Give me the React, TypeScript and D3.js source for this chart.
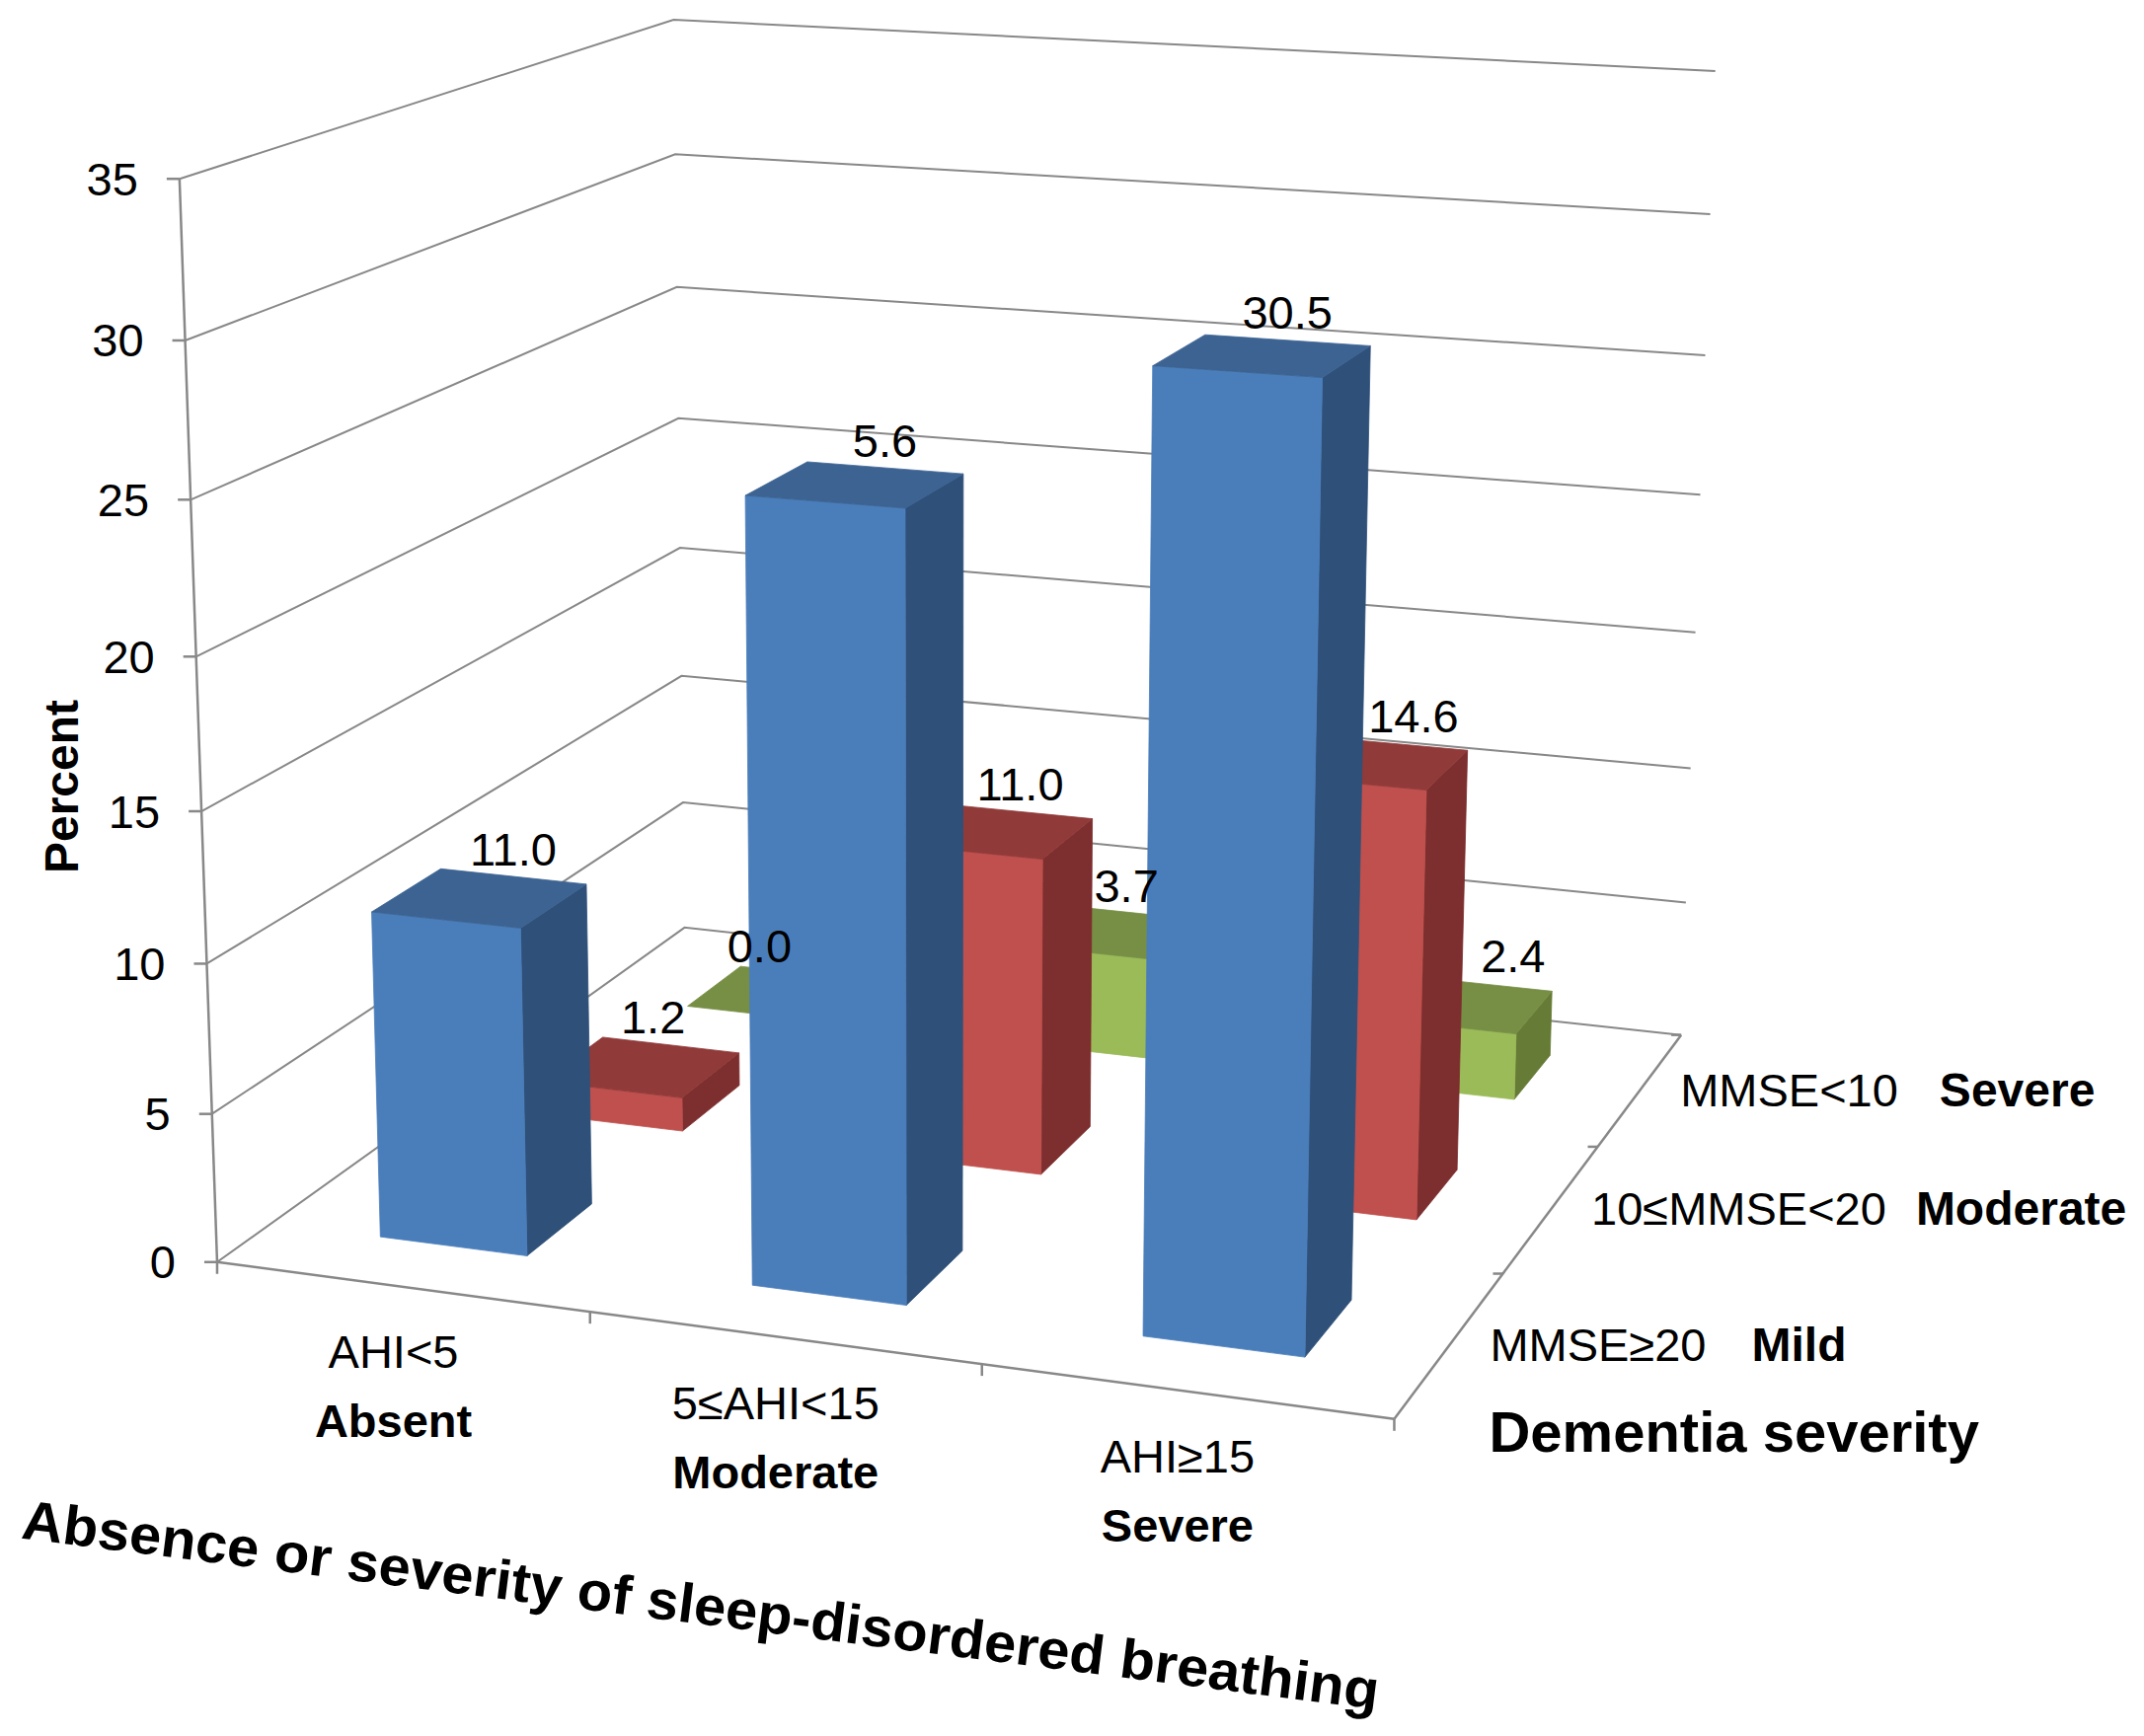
import React, { useEffect, useRef } from "react";
import * as d3 from "d3";

// categories (front axis) and series (depth axis)
const categories = ["AHI<5", "5≤AHI<15", "AHI≥15"];
const categoryLevels = ["Absent", "Moderate", "Severe"];
const seriesCodes = ["MMSE≥20", "10≤MMSE<20", "MMSE<10"];
const seriesLevels = ["Mild", "Moderate", "Severe"];

// percent values per series (front row first)
const mildValues = [11.0, 25.6, 30.5];
const moderateValues = [1.2, 11.0, 14.6];
const severeValues = [0.0, 3.7, 2.4];

// data labels as printed on the chart
const mildLabels = ["11.0", "5.6", "30.5"];
const moderateLabels = ["1.2", "11.0", "14.6"];
const severeLabels = ["0.0", "3.7", "2.4"];

const valueTicks = [0, 5, 10, 15, 20, 25, 30, 35];

const W = 2172;
const H = 1759;
const FONT = "'Liberation Sans', Arial, sans-serif";

// page position of the plot box corners/ticks: [cat, value, depth, px, py]
// used only to fit the perspective camera
const boxAnchors: number[][] = [
  [0, 0, 0, 220, 1278], [0, 5, 0, 214, 1127], [0, 10, 0, 209, 976], [0, 15, 0, 204, 822],
  [0, 20, 0, 200, 665], [0, 25, 0, 193, 507], [0, 30, 0, 188, 345], [0, 35, 0, 181, 182],
  [0, 0, 3, 693, 941], [0, 5, 3, 693, 814], [0, 10, 3, 690, 684], [0, 15, 3, 689, 555],
  [0, 20, 3, 687, 423], [0, 25, 3, 686, 291], [0, 30, 3, 683, 156], [0, 35, 3, 683, 20],
  [3, 0, 3, 1702, 1049], [3, 5, 3, 1707, 915], [3, 10, 3, 1712, 779], [3, 15, 3, 1717, 640],
  [3, 20, 3, 1722, 502], [3, 25, 3, 1728, 360], [3, 30, 3, 1733, 217], [3, 35, 3, 1738, 72],
  [1, 0, 0, 599, 1330], [2, 0, 0, 994, 1385], [3, 0, 0, 1408, 1438],
  [3, 0, 1, 1528, 1288], [3, 0, 2, 1620, 1161],
];

const yWorld = d3.scaleLinear().domain([0, 35]).range([0, 3.5]);

function fitCamera(anchors: number[][]) {
  const rows: number[][] = [];
  const rhs: number[] = [];
  anchors.forEach(([X, val, Z, px, py]) => {
    const Y = yWorld(val), u = px / 1000, v = py / 1000;
    rows.push([X, Y, Z, 1, 0, 0, 0, 0, -u * X, -u * Y, -u * Z]); rhs.push(u);
    rows.push([0, 0, 0, 0, X, Y, Z, 1, -v * X, -v * Y, -v * Z]); rhs.push(v);
  });
  const n = 11;
  const M = d3.range(n).map((i) => {
    const r = d3.range(n).map((j) => d3.sum(rows, (row) => row[i] * row[j]));
    r.push(d3.sum(rows, (row, k) => row[i] * rhs[k]));
    return r;
  });
  for (let c = 0; c < n; c++) {
    let piv = c;
    for (let r = c + 1; r < n; r++) if (Math.abs(M[r][c]) > Math.abs(M[piv][c])) piv = r;
    [M[c], M[piv]] = [M[piv], M[c]];
    for (let r = 0; r < n; r++) {
      if (r === c) continue;
      const f = M[r][c] / M[c][c];
      for (let k = c; k <= n; k++) M[r][k] -= f * M[c][k];
    }
  }
  return d3.range(n).map((i) => M[i][n] / M[i][i]);
}

const cam = fitCamera(boxAnchors);
// X: category units, Y: world height, Z: depth units
const project = (X: number, Y: number, Z: number): [number, number] => {
  const w = cam[8] * X + cam[9] * Y + cam[10] * Z + 1;
  return [
    ((cam[0] * X + cam[1] * Y + cam[2] * Z + cam[3]) / w) * 1000,
    ((cam[4] * X + cam[5] * Y + cam[6] * Z + cam[7]) / w) * 1000,
  ];
};

const xBand = d3.scaleBand<string>().domain(categories).range([0, 3]).paddingInner(0.6).paddingOuter(0.3);
const zBand = d3.scaleBand<string>().domain(seriesCodes).range([0, 3]).paddingInner(0.6).paddingOuter(0.3);

const series = [
  { code: seriesCodes[0], values: mildValues, labels: mildLabels, front: "#4a7ebb", top: "#3c6392", side: "#2f5079" },
  { code: seriesCodes[1], values: moderateValues, labels: moderateLabels, front: "#c0504d", top: "#903a39", side: "#7d2e2e" },
  { code: seriesCodes[2], values: severeValues, labels: severeLabels, front: "#9bbb59", top: "#778f45", side: "#667b36" },
];

// Excel keeps data labels of deeper rows spread like the front row, then shifts them
const labelRowShift = [0, 136, 243];

const App: React.FC = () => {
  const svgRef = useRef<SVGSVGElement>(null);

  useEffect(() => {
    if (!svgRef.current) return;
    const svg = d3.select(svgRef.current);
    svg.selectAll("*").remove();

    const line = d3.line<[number, number]>();
    const grid = "#888888";
    const top = yWorld(35);

    // walls' gridlines
    const g = svg.append("g");
    valueTicks.forEach((t) => {
      const y = yWorld(t);
      g.append("path")
        .attr("d", line([project(0, y, 0), project(0, y, 3), project(3, y, 3)]))
        .attr("fill", "none").attr("stroke", grid).attr("stroke-width", 2);
    });

    // axes
    const axisPaths: [number, number][][] = [
      [project(0, 0, 0), project(0, top, 0)],
      [project(0, 0, 0), project(3, 0, 0)],
      [project(3, 0, 0), project(3, 0, 3)],
    ];
    axisPaths.forEach((p) =>
      g.append("path").attr("d", line(p)).attr("fill", "none").attr("stroke", grid).attr("stroke-width", 2.5)
    );

    // value axis ticks + labels
    valueTicks.forEach((t) => {
      const [px, py] = project(0, yWorld(t), 0);
      g.append("line").attr("x1", px - 13).attr("x2", px).attr("y1", py).attr("y2", py)
        .attr("stroke", grid).attr("stroke-width", 2.5);
      g.append("text").attr("x", px - 42).attr("y", py).attr("text-anchor", "end")
        .attr("dominant-baseline", "central").attr("font-family", FONT).attr("font-size", 47)
        .attr("fill", "#000").text(t);
    });

    // category ticks
    d3.range(4).forEach((k) => {
      const [px, py] = project(k, 0, 0);
      g.append("line").attr("x1", px).attr("x2", px).attr("y1", py).attr("y2", py + 12)
        .attr("stroke", grid).attr("stroke-width", 2.5);
    });
    // depth ticks
    d3.range(1, 4).forEach((k) => {
      const [px, py] = project(3, 0, k);
      g.append("line").attr("x1", px - 10).attr("x2", px).attr("y1", py).attr("y2", py)
        .attr("stroke", grid).attr("stroke-width", 2.5);
    });

    // bars, back row first, left to right
    const bars = svg.append("g");
    const bw = xBand.bandwidth();
    const bd = zBand.bandwidth();
    series.slice().reverse().forEach((s) => {
      const z0 = zBand(s.code)!;
      const z1 = z0 + bd;
      categories.forEach((c, i) => {
        const x0 = xBand(c)!;
        const x1 = x0 + bw;
        const h = yWorld(s.values[i]);
        const face = (pts: [number, number, number][], fill: string) =>
          bars.append("path")
            .attr("d", line(pts.map(([a, b, cc]) => project(a, b, cc))) + "Z")
            .attr("fill", fill).attr("stroke", fill).attr("stroke-width", 0.8).attr("stroke-linejoin", "round");
        if (h > 0) {
          face([[x1, 0, z0], [x1, 0, z1], [x1, h, z1], [x1, h, z0]], s.side);
          face([[x0, 0, z0], [x1, 0, z0], [x1, h, z0], [x0, h, z0]], s.front);
        }
        face([[x0, h, z0], [x1, h, z0], [x1, h, z1], [x0, h, z1]], s.top);
      });
    });

    // data labels on top
    const labels = svg.append("g");
    const frontBack = zBand(seriesCodes[0])! + bd;
    series.forEach((s, j) => {
      const zc = zBand(s.code)! + bd;
      categories.forEach((c, i) => {
        const xc = xBand(c)! + bw / 2;
        const h = yWorld(s.values[i]);
        const px = project(xc, h, frontBack)[0] + labelRowShift[j];
        const py = project(xc, h, zc)[1];
        labels.append("text").attr("x", px).attr("y", py - 28)
          .attr("text-anchor", "middle").attr("dominant-baseline", "central")
          .attr("font-family", FONT).attr("font-size", 47).attr("fill", "#000")
          .text(s.labels[i]);
      });
    });

    // category labels
    categories.forEach((c, i) => {
      const [px, py] = project(xBand(c)! + bw / 2, 0, 0);
      labels.append("text").attr("x", px - 8).attr("y", py + 66)
        .attr("text-anchor", "middle").attr("dominant-baseline", "central")
        .attr("font-family", FONT).attr("font-size", 47).text(c);
      labels.append("text").attr("x", px - 8).attr("y", py + 136)
        .attr("text-anchor", "middle").attr("dominant-baseline", "central")
        .attr("font-family", FONT).attr("font-size", 47).attr("font-weight", "bold")
        .text(categoryLevels[i]);
    });

    // depth labels
    const gaps = [46, 30, 42];
    seriesCodes.forEach((code, j) => {
      const [px, py] = project(3, 0, zBand(code)! + bd / 2);
      const t = labels.append("text").attr("x", px + 40).attr("y", py)
        .attr("dominant-baseline", "central").attr("font-family", FONT).attr("font-size", 47);
      t.append("tspan").text(code);
      t.append("tspan").attr("dx", gaps[j]).attr("font-weight", "bold").attr("font-size", 48)
        .text(seriesLevels[j]);
    });

    // axis titles
    const [fx, fy] = project(3, 0, 0);
    labels.append("text").attr("x", fx + 96).attr("y", fy + 13)
      .attr("dominant-baseline", "central").attr("font-family", FONT).attr("font-size", 58)
      .attr("font-weight", "bold").text("Dementia severity");

    labels.append("text").attr("transform", "translate(62,797) rotate(-90)")
      .attr("text-anchor", "middle").attr("dominant-baseline", "central")
      .attr("font-family", FONT).attr("font-size", 48).attr("font-weight", "bold").text("Percent");

    labels.append("text").attr("transform", "translate(710,1626) rotate(7.2)")
      .attr("text-anchor", "middle").attr("dominant-baseline", "central")
      .attr("font-family", FONT).attr("font-size", 56).attr("font-weight", "bold")
      .attr("textLength", 1385).attr("lengthAdjust", "spacingAndGlyphs")
      .text("Absence or severity of sleep-disordered breathing");
  }, []);

  return (
    <svg
      ref={svgRef}
      width={W}
      height={H}
      viewBox={`0 0 ${W} ${H}`}
      style={{ position: "absolute", left: 0, top: 0, background: "#fff" }}
    />
  );
};

export default App;
